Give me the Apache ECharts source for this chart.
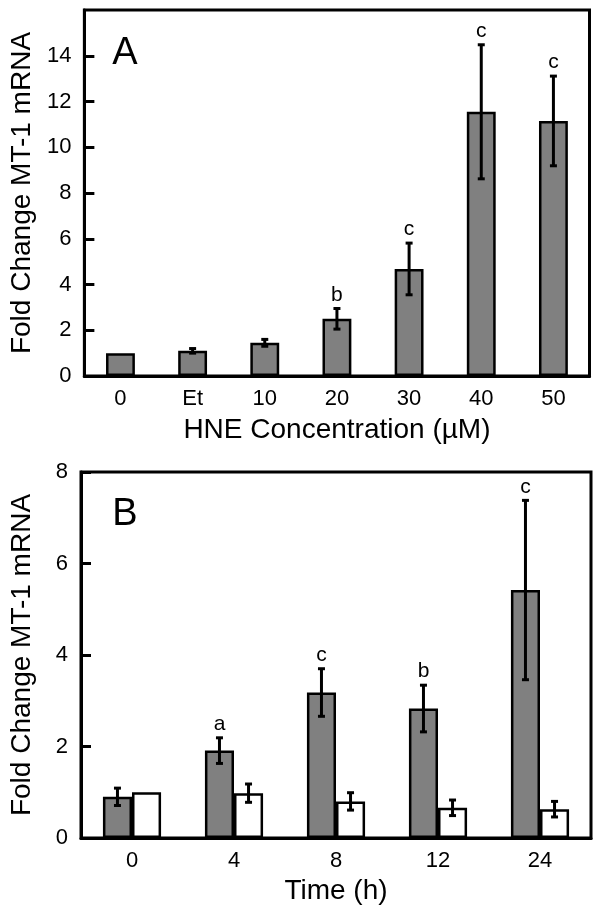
<!DOCTYPE html>
<html>
<head>
<meta charset="utf-8">
<script src="https://cdn.jsdelivr.net/npm/echarts@6/dist/echarts.min.js"></script>
<style>
  html, body { margin: 0; padding: 0; background: #fff; }
  #chart { width: 601px; height: 914px; }
</style>
</head>
<body>
<div id="chart"></div>
<script>
// panel A - HNE concentration
var catsA = ['0', 'Et', '10', '20', '30', '40', '50'];
var valsA = [1.0, 1.1, 1.45, 2.5, 4.68, 11.55, 11.15];
var errA = [0, 0.1, 0.15, 0.45, 1.13, 2.93, 1.96];
var lettersA = ['', '', '', 'b', 'c', 'c', 'c'];
var ticksA = [0, 2, 4, 6, 8, 10, 12, 14, 16];

// panel B - time course
var catsB = ['0', '4', '8', '12', '24'];
var grayB = [0.9, 1.91, 3.18, 2.83, 5.42];
var grayErrB = [0.19, 0.28, 0.52, 0.51, 1.96];
var lettersB = ['', 'a', 'c', 'b', 'c'];
var whiteB = [1.0, 0.98, 0.8, 0.66, 0.63];
var whiteErrB = [0, 0.2, 0.19, 0.17, 0.17];
var ticksB = [0, 2, 4, 6, 8];

var FONT = '"Liberation Sans", Arial, sans-serif';
var BAR_A = 0.40, BAR_B = 0.285;
var chart = echarts.init(document.getElementById('chart'));

// error bar + letter drawn on top of the bars
function errorBars(values, errs, letters, shift, barFrac) {
  return {
    type: 'custom',
    z: 5,
    data: values.map(function (v, i) { return [i, v, errs[i]]; }),
    renderItem: function (params, api) {
      var i = api.value(0), v = api.value(1), e = api.value(2);
      var band = api.size([1, 0])[0];
      var dx = shift * band * barFrac / 2;
      var hi = api.coord([i, v + e]);
      var lo = api.coord([i, v - e]);
      var x = hi[0] + dx;
      var kids = [];
      var ls = { stroke: '#000', lineWidth: 3 };
      if (e > 0) {
        kids.push({ type: 'line', shape: { x1: x, y1: hi[1], x2: x, y2: lo[1] }, style: ls });
        kids.push({ type: 'line', shape: { x1: x - 3.5, y1: hi[1], x2: x + 3.5, y2: hi[1] }, style: ls });
        kids.push({ type: 'line', shape: { x1: x - 3.5, y1: lo[1], x2: x + 3.5, y2: lo[1] }, style: ls });
      }
      var t = letters[params.dataIndex];
      if (t) {
        kids.push({
          type: 'text',
          x: x, y: hi[1] - 3,
          style: { text: t, fill: '#000', font: '21px ' + FONT, align: 'center', verticalAlign: 'bottom' }
        });
      }
      return { type: 'group', children: kids };
    }
  };
}

function valueAxis(idx, ticks, showMax) {
  return {
    type: 'value',
    gridIndex: idx,
    min: ticks[0],
    max: ticks[ticks.length - 1],
    interval: ticks[1] - ticks[0],
    name: 'Fold Change MT-1 mRNA',
    nameLocation: 'middle',
    nameGap: 45,
    nameTextStyle: { fontSize: 28, color: '#000', fontFamily: FONT },
    axisLine: { show: true, lineStyle: { color: '#000', width: 3 } },
    axisTick: { show: true, inside: true, length: 10, lineStyle: { color: '#000', width: 3 } },
    axisLabel: { fontSize: 22, color: '#000', fontFamily: FONT, margin: 13, showMaxLabel: showMax },
    splitLine: { show: false }
  };
}

function catAxis(idx, cats, title, gap) {
  return {
    type: 'category',
    gridIndex: idx,
    data: cats,
    name: title,
    nameLocation: 'middle',
    nameGap: gap,
    nameTextStyle: { fontSize: 28, color: '#000', fontFamily: FONT },
    axisLine: { lineStyle: { color: '#000', width: 3 } },
    axisTick: { show: false },
    axisLabel: { fontSize: 22, color: '#000', fontFamily: FONT, margin: 12 }
  };
}

chart.setOption({
  animation: false,
  backgroundColor: '#fff',
  grid: [
    { left: 80.5, top: 10, width: 509, height: 366, show: true, borderColor: '#000', borderWidth: 3 },
    { left: 80.5, top: 472, width: 510.5, height: 366, show: true, borderColor: '#000', borderWidth: 3 }
  ],
  xAxis: [
    catAxis(0, catsA, 'HNE Concentration (µM)', 40),
    catAxis(1, catsB, 'Time (h)', 39)
  ],
  yAxis: [
    valueAxis(0, ticksA, false),
    valueAxis(1, ticksB, true)
  ],
  graphic: [
    { type: 'text', x: 125, y: 54, style: { text: 'A', font: '38px ' + FONT, fill: '#000', align: 'center', verticalAlign: 'middle' } },
    { type: 'text', x: 125, y: 515, style: { text: 'B', font: '38px ' + FONT, fill: '#000', align: 'center', verticalAlign: 'middle' } }
  ],
  series: [
    {
      type: 'bar', xAxisIndex: 0, yAxisIndex: 0, data: valsA, barWidth: BAR_A * 100 + '%',
      itemStyle: { color: '#808080', borderColor: '#000', borderWidth: 2.5 }
    },
    Object.assign(errorBars(valsA, errA, lettersA, 0, BAR_A), { xAxisIndex: 0, yAxisIndex: 0 }),
    {
      type: 'bar', xAxisIndex: 1, yAxisIndex: 1, data: grayB, barWidth: BAR_B * 100 + '%', barGap: '0%',
      itemStyle: { color: '#808080', borderColor: '#000', borderWidth: 2.5 }
    },
    {
      type: 'bar', xAxisIndex: 1, yAxisIndex: 1, data: whiteB, barWidth: BAR_B * 100 + '%', barGap: '0%',
      itemStyle: { color: '#fff', borderColor: '#000', borderWidth: 2.5 }
    },
    Object.assign(errorBars(grayB, grayErrB, lettersB, -1, BAR_B), { xAxisIndex: 1, yAxisIndex: 1 }),
    Object.assign(errorBars(whiteB, whiteErrB, ['', '', '', '', ''], 1, BAR_B), { xAxisIndex: 1, yAxisIndex: 1 })
  ]
});
</script>
</body>
</html>
